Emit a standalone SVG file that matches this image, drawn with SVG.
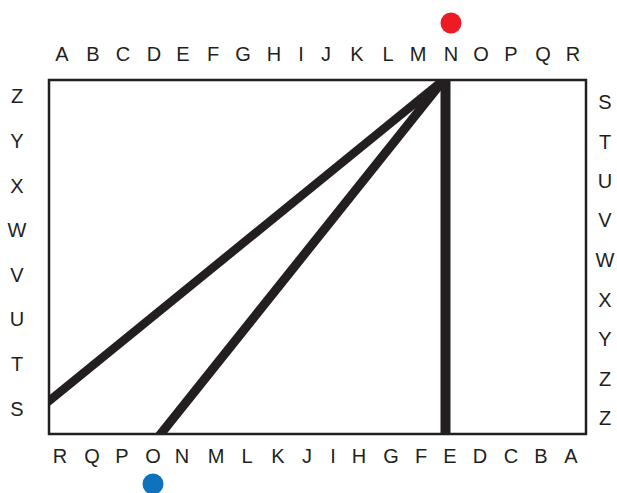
<svg xmlns="http://www.w3.org/2000/svg" width="617" height="493" viewBox="0 0 617 493">
<style>
.lbl{font-family:"Liberation Sans",Arial,sans-serif;font-size:20px;fill:#231f20;text-anchor:middle}
.bar{stroke:#231f20;fill:none;stroke-linecap:butt}
</style>
<defs>
<clipPath id="inner"><rect x="49" y="80" width="537" height="354"/></clipPath>
</defs>
<rect width="617" height="493" fill="#ffffff"/>
<g id="frame">
<rect x="49" y="80" width="537" height="354" fill="none" stroke="#231f20" stroke-width="2.5"/>
</g>
<g id="connectors" clip-path="url(#inner)">
<line class="bar" x1="446" y1="78" x2="44" y2="405" stroke-width="8.5"/>
<line class="bar" x1="446" y1="77" x2="157.5" y2="438" stroke-width="9"/>
<line class="bar" x1="445.5" y1="78" x2="445.5" y2="436" stroke-width="10"/>
</g>
<g id="dot-red"><circle cx="451" cy="23" r="10.5" fill="#ed1c24"/></g>
<g id="dot-blue"><circle cx="153" cy="484" r="10.5" fill="#0f72bd"/></g>
<g id="top-labels">
<text class="lbl" x="62" y="61">A</text>
<text class="lbl" x="93" y="61">B</text>
<text class="lbl" x="123" y="61">C</text>
<text class="lbl" x="154" y="61">D</text>
<text class="lbl" x="183" y="61">E</text>
<text class="lbl" x="213" y="61">F</text>
<text class="lbl" x="243" y="61">G</text>
<text class="lbl" x="274" y="61">H</text>
<text class="lbl" x="301" y="61">I</text>
<text class="lbl" x="326" y="61">J</text>
<text class="lbl" x="357" y="61">K</text>
<text class="lbl" x="388" y="61">L</text>
<text class="lbl" x="418" y="61">M</text>
<text class="lbl" x="451" y="61">N</text>
<text class="lbl" x="481" y="61">O</text>
<text class="lbl" x="511" y="61">P</text>
<text class="lbl" x="543" y="61">Q</text>
<text class="lbl" x="573" y="61">R</text>
</g>
<g id="bottom-labels">
<text class="lbl" x="60" y="463">R</text>
<text class="lbl" x="92" y="463">Q</text>
<text class="lbl" x="122" y="463">P</text>
<text class="lbl" x="153" y="463">O</text>
<text class="lbl" x="182" y="463">N</text>
<text class="lbl" x="216" y="463">M</text>
<text class="lbl" x="247" y="463">L</text>
<text class="lbl" x="278" y="463">K</text>
<text class="lbl" x="307" y="463">J</text>
<text class="lbl" x="333" y="463">I</text>
<text class="lbl" x="359" y="463">H</text>
<text class="lbl" x="391" y="463">G</text>
<text class="lbl" x="421" y="463">F</text>
<text class="lbl" x="450" y="463">E</text>
<text class="lbl" x="480" y="463">D</text>
<text class="lbl" x="511" y="463">C</text>
<text class="lbl" x="541" y="463">B</text>
<text class="lbl" x="571" y="463">A</text>
</g>
<g id="left-labels">
<text class="lbl" x="17" y="102.5">Z</text>
<text class="lbl" x="17" y="147.5">Y</text>
<text class="lbl" x="17" y="192.5">X</text>
<text class="lbl" x="17" y="237">W</text>
<text class="lbl" x="17" y="281.5">V</text>
<text class="lbl" x="17" y="326">U</text>
<text class="lbl" x="17" y="371">T</text>
<text class="lbl" x="17" y="416">S</text>
</g>
<g id="right-labels">
<text class="lbl" x="605" y="109">S</text>
<text class="lbl" x="605" y="148.5">T</text>
<text class="lbl" x="605" y="187.5">U</text>
<text class="lbl" x="605" y="227">V</text>
<text class="lbl" x="605" y="267">W</text>
<text class="lbl" x="605" y="306.5">X</text>
<text class="lbl" x="605" y="346">Y</text>
<text class="lbl" x="605" y="385.5">Z</text>
<text class="lbl" x="605" y="425">Z</text>
</g>
</svg>
